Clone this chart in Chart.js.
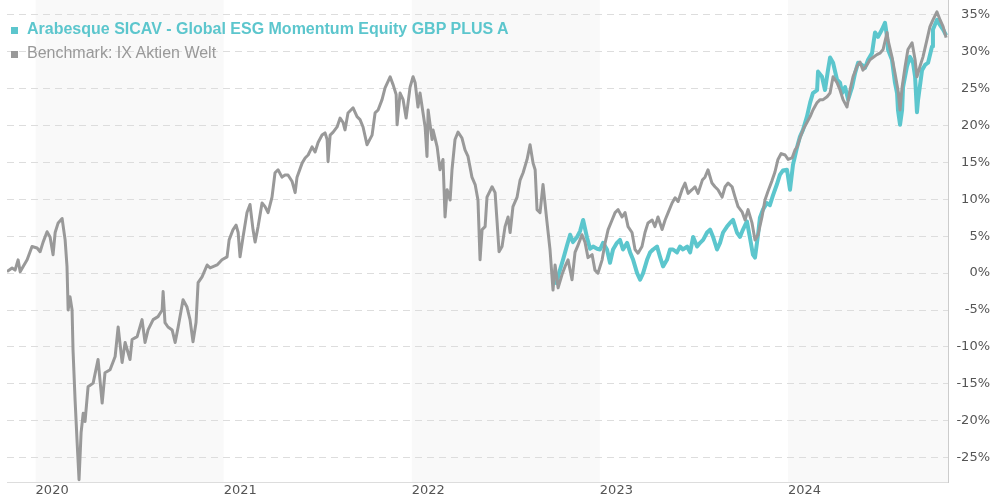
<!DOCTYPE html>
<html>
<head>
<meta charset="utf-8">
<script src="https://cdn.jsdelivr.net/npm/chart.js@4.4.1/dist/chart.umd.min.js"></script>
<style>
  html, body { margin: 0; padding: 0; background: #fff; }
  #wrap { position: relative; width: 990px; height: 500px; overflow: hidden; }
  #legend { position: absolute; left: 0; top: 17px; font-family: "Liberation Sans", Arial, sans-serif; font-size: 16px; line-height: 24px; pointer-events: none; }
  .item { position: relative; height: 24px; padding-left: 27px; white-space: nowrap; }
  .item .box { position: absolute; left: 11px; top: 10px; width: 7px; height: 7px; }
  .fund { color: #5cc6cd; font-weight: bold; }
  .fund .box { background: #5cc6cd; }
  .bench { color: #999; }
  .bench .box { background: #999; }
</style>
</head>
<body>
<div id="wrap">
  <canvas id="chart" width="990" height="500"></canvas>
  <div id="legend"></div>
</div>
<script>
// series names
const fundName = 'Arabesque SICAV - Global ESG Momentum Equity GBP PLUS A';
const benchName = 'Benchmark: IX Aktien Welt';

// x axis: decimal years
const yearTicks = [2020, 2021, 2022, 2023, 2024];
const shadedYears = [2020, 2022, 2024];
const xMin = 2019.848;
const xMax = 2024.851;
const yMin = -28.3;
const yMax = 37;

// benchmark, performance in %
const benchYears = [2019.848, 2019.875, 2019.891, 2019.907, 2019.918, 2019.934, 2019.955, 2019.981, 2020.008, 2020.024, 2020.040, 2020.061, 2020.077, 2020.093, 2020.104, 2020.120, 2020.141, 2020.157, 2020.167, 2020.173, 2020.183, 2020.194, 2020.199, 2020.210, 2020.221, 2020.231, 2020.242, 2020.253, 2020.263, 2020.279, 2020.306, 2020.332, 2020.354, 2020.369, 2020.396, 2020.423, 2020.439, 2020.460, 2020.476, 2020.502, 2020.513, 2020.540, 2020.566, 2020.582, 2020.598, 2020.625, 2020.651, 2020.673, 2020.678, 2020.688, 2020.704, 2020.726, 2020.742, 2020.758, 2020.784, 2020.805, 2020.821, 2020.837, 2020.853, 2020.864, 2020.885, 2020.912, 2020.928, 2020.965, 2020.991, 2021.018, 2021.029, 2021.050, 2021.066, 2021.077, 2021.087, 2021.103, 2021.124, 2021.140, 2021.156, 2021.167, 2021.183, 2021.204, 2021.220, 2021.236, 2021.257, 2021.273, 2021.289, 2021.310, 2021.326, 2021.342, 2021.364, 2021.380, 2021.390, 2021.417, 2021.433, 2021.449, 2021.470, 2021.486, 2021.502, 2021.523, 2021.539, 2021.550, 2021.555, 2021.566, 2021.582, 2021.603, 2021.619, 2021.635, 2021.645, 2021.661, 2021.688, 2021.709, 2021.725, 2021.741, 2021.762, 2021.789, 2021.805, 2021.821, 2021.842, 2021.858, 2021.885, 2021.901, 2021.917, 2021.922, 2021.938, 2021.954, 2021.970, 2021.991, 2022.007, 2022.018, 2022.033, 2022.044, 2022.060, 2022.071, 2022.081, 2022.087, 2022.108, 2022.113, 2022.135, 2022.150, 2022.166, 2022.177, 2022.188, 2022.204, 2022.214, 2022.230, 2022.246, 2022.267, 2022.283, 2022.299, 2022.320, 2022.337, 2022.352, 2022.363, 2022.374, 2022.390, 2022.400, 2022.427, 2022.443, 2022.454, 2022.464, 2022.480, 2022.496, 2022.512, 2022.523, 2022.538, 2022.560, 2022.576, 2022.592, 2022.613, 2022.629, 2022.645, 2022.656, 2022.666, 2022.682, 2022.698, 2022.719, 2022.735, 2022.751, 2022.762, 2022.778, 2022.799, 2022.815, 2022.831, 2022.852, 2022.868, 2022.884, 2022.905, 2022.921, 2022.937, 2022.959, 2022.974, 2022.990, 2023.012, 2023.028, 2023.044, 2023.065, 2023.081, 2023.097, 2023.118, 2023.134, 2023.150, 2023.171, 2023.187, 2023.203, 2023.224, 2023.240, 2023.256, 2023.278, 2023.293, 2023.309, 2023.331, 2023.347, 2023.363, 2023.384, 2023.400, 2023.416, 2023.437, 2023.453, 2023.469, 2023.490, 2023.506, 2023.522, 2023.545, 2023.559, 2023.575, 2023.596, 2023.612, 2023.628, 2023.650, 2023.666, 2023.682, 2023.703, 2023.719, 2023.735, 2023.756, 2023.772, 2023.788, 2023.809, 2023.825, 2023.841, 2023.862, 2023.878, 2023.894, 2023.915, 2023.931, 2023.947, 2023.964, 2023.985, 2024.001, 2024.022, 2024.038, 2024.049, 2024.064, 2024.080, 2024.101, 2024.118, 2024.133, 2024.155, 2024.171, 2024.187, 2024.208, 2024.224, 2024.240, 2024.261, 2024.277, 2024.293, 2024.314, 2024.330, 2024.346, 2024.367, 2024.383, 2024.399, 2024.420, 2024.436, 2024.452, 2024.473, 2024.489, 2024.506, 2024.527, 2024.532, 2024.553, 2024.569, 2024.585, 2024.596, 2024.607, 2024.623, 2024.638, 2024.660, 2024.676, 2024.686, 2024.702, 2024.718, 2024.739, 2024.755, 2024.771, 2024.792, 2024.809, 2024.825, 2024.841];
const benchValues = [0.2, 0.7, 0.4, 1.8, 0.2, 0.9, 1.8, 3.6, 3.4, 2.9, 4.2, 5.6, 4.9, 2.5, 5.5, 6.8, 7.4, 4.5, 0.9, -5.0, -3.2, -5.0, -10.4, -17.2, -23.0, -28.0, -21.6, -19.0, -20.1, -15.4, -14.9, -11.7, -17.6, -13.5, -13.1, -11.3, -7.3, -12.1, -9.4, -11.7, -9.0, -8.6, -6.3, -9.4, -7.7, -6.3, -5.9, -5.0, -2.5, -6.7, -7.3, -7.7, -9.4, -7.3, -3.6, -4.6, -6.3, -9.3, -6.7, -1.3, -0.5, 1.1, 0.7, 1.1, 1.8, 2.2, 4.5, 5.9, 6.5, 5.5, 2.2, 4.9, 8.2, 9.3, 5.9, 4.2, 6.3, 9.5, 9.0, 8.2, 10.3, 13.6, 14.0, 13.0, 13.3, 13.3, 12.4, 10.9, 13.0, 14.9, 15.6, 16.0, 17.1, 16.4, 17.7, 18.7, 19.0, 18.1, 15.1, 18.7, 19.1, 19.8, 21.0, 20.4, 19.4, 21.7, 22.4, 21.2, 20.8, 19.8, 17.4, 18.7, 21.7, 22.1, 23.5, 25.1, 26.6, 25.5, 24.2, 20.1, 24.4, 23.5, 21.0, 25.2, 26.6, 25.8, 22.5, 24.4, 21.7, 19.8, 15.8, 22.1, 18.1, 19.4, 17.1, 14.0, 15.4, 7.6, 11.3, 9.9, 14.0, 18.1, 19.1, 18.3, 16.7, 15.8, 13.0, 12.0, 9.9, 1.8, 5.9, 6.3, 10.3, 11.7, 10.9, 6.8, 2.9, 3.6, 6.3, 7.6, 5.5, 9.0, 10.3, 12.6, 13.6, 15.4, 17.4, 14.9, 14.0, 8.6, 8.2, 12.0, 6.9, 3.2, -2.3, 1.1, -2.0, -0.2, 0.9, 1.8, -0.9, 2.8, 3.8, 5.2, 4.2, 2.1, 2.5, 0.4, 0.0, 1.8, 4.1, 5.9, 7.2, 8.2, 8.6, 7.6, 8.2, 6.3, 5.5, 3.2, 2.7, 3.6, 5.5, 6.8, 7.2, 6.3, 7.6, 5.9, 7.2, 8.2, 9.5, 10.2, 9.7, 11.3, 12.2, 10.8, 11.3, 11.7, 10.8, 12.6, 13.0, 14.0, 12.2, 11.7, 11.3, 10.3, 11.7, 12.2, 11.7, 10.3, 9.0, 8.3, 7.2, 8.6, 6.8, 4.5, 5.2, 7.6, 9.9, 11.1, 12.5, 13.7, 15.4, 16.2, 16.0, 15.4, 15.6, 16.7, 17.1, 18.3, 19.4, 20.4, 21.2, 22.1, 23.1, 23.5, 23.5, 23.9, 24.4, 26.6, 25.8, 24.8, 23.5, 22.5, 24.8, 26.6, 28.0, 28.6, 27.5, 28.2, 28.9, 29.2, 29.6, 29.8, 30.3, 32.6, 31.6, 29.3, 27.1, 24.8, 22.1, 25.2, 28.0, 30.3, 31.2, 28.9, 26.6, 28.0, 29.3, 31.6, 33.4, 34.3, 35.4, 34.3, 33.4, 31.9];

// fund, performance in %
const fundYears = [2022.767, 2022.783, 2022.804, 2022.826, 2022.842, 2022.857, 2022.879, 2022.895, 2022.911, 2022.932, 2022.948, 2022.964, 2022.985, 2023.001, 2023.017, 2023.038, 2023.054, 2023.070, 2023.091, 2023.107, 2023.123, 2023.145, 2023.161, 2023.177, 2023.198, 2023.214, 2023.230, 2023.251, 2023.267, 2023.283, 2023.304, 2023.320, 2023.336, 2023.357, 2023.373, 2023.389, 2023.410, 2023.426, 2023.442, 2023.464, 2023.480, 2023.496, 2023.517, 2023.533, 2023.549, 2023.570, 2023.586, 2023.602, 2023.623, 2023.639, 2023.655, 2023.676, 2023.692, 2023.708, 2023.729, 2023.745, 2023.761, 2023.782, 2023.798, 2023.814, 2023.825, 2023.841, 2023.851, 2023.867, 2023.888, 2023.904, 2023.920, 2023.941, 2023.957, 2023.973, 2023.995, 2024.011, 2024.027, 2024.049, 2024.064, 2024.080, 2024.101, 2024.118, 2024.133, 2024.155, 2024.160, 2024.181, 2024.197, 2024.213, 2024.224, 2024.240, 2024.261, 2024.277, 2024.288, 2024.304, 2024.320, 2024.341, 2024.357, 2024.373, 2024.394, 2024.410, 2024.426, 2024.447, 2024.463, 2024.479, 2024.500, 2024.516, 2024.527, 2024.532, 2024.553, 2024.569, 2024.580, 2024.585, 2024.596, 2024.607, 2024.612, 2024.633, 2024.649, 2024.665, 2024.676, 2024.686, 2024.692, 2024.713, 2024.729, 2024.745, 2024.766, 2024.771, 2024.792, 2024.809, 2024.825, 2024.841];
const fundValues = [-1.6, 0.0, 1.8, 3.8, 5.2, 4.2, 4.9, 5.7, 7.2, 4.8, 3.3, 3.6, 3.3, 3.2, 4.1, 3.2, 1.4, 3.2, 4.1, 4.5, 3.2, 4.1, 2.8, 1.8, 0.0, -0.9, 0.0, 1.8, 2.8, 3.2, 3.6, 2.2, 0.9, 1.8, 3.2, 3.2, 2.8, 3.6, 3.2, 3.6, 2.8, 4.9, 3.6, 4.1, 4.5, 5.5, 5.9, 4.9, 3.2, 4.1, 5.5, 6.3, 6.8, 7.2, 5.5, 4.9, 5.9, 7.0, 4.8, 2.5, 2.1, 5.2, 7.5, 8.6, 9.5, 9.2, 10.5, 12.0, 13.3, 13.9, 14.0, 11.3, 14.7, 17.1, 18.5, 19.4, 21.2, 23.1, 24.4, 24.8, 27.3, 26.6, 24.8, 27.5, 29.2, 28.5, 26.2, 25.8, 24.4, 25.2, 23.5, 25.2, 27.1, 28.5, 28.2, 27.8, 28.9, 29.8, 32.6, 32.0, 33.0, 33.9, 32.0, 30.3, 28.9, 25.8, 24.4, 22.1, 20.1, 22.1, 25.2, 28.0, 29.3, 28.5, 26.6, 21.8, 23.5, 27.5, 28.2, 28.5, 30.7, 33.0, 34.3, 33.6, 33.0, 32.2];

const fundColor = '#5cc6cd';
const benchColor = '#999999';

function toPoints(xs, ys) {
  let pts = [];
  for (let i = 0; i < Math.min(xs.length, ys.length); i++)
    pts.push({x: xs[i], y: ys[i]});
  return pts;
}

// legend as html text
document.getElementById('legend').innerHTML =
  '<div class="item fund"><span class="box"></span>' + fundName + '</div>' +
  '<div class="item bench"><span class="box"></span>' + benchName + '</div>';

// grey background for every other year
const yearBands = {
  id: 'yearBands',
  beforeDraw(chart) {
    const {ctx, chartArea, scales} = chart;
    ctx.save();
    ctx.fillStyle = '#f9f9f9';
    shadedYears.forEach(y => {
      let x1 = Math.max(scales.x.getPixelForValue(y), chartArea.left);
      let x2 = Math.min(scales.x.getPixelForValue(y + 1), chartArea.right);
      ctx.fillRect(x1, chartArea.top, x2 - x1, chartArea.bottom - chartArea.top);
    });
    ctx.restore();
  }
};

const tickFont = {family: 'DejaVu Sans', size: 13};

const config = {
  type: 'line',
  data: {
    datasets: [{
      label: benchName,
      data: toPoints(benchYears, benchValues),
      borderColor: benchColor,
      borderWidth: 3,
      pointRadius: 0,
      borderJoinStyle: 'round',
      order: 1
    }, {
      label: fundName,
      data: toPoints(fundYears, fundValues),
      borderColor: fundColor,
      borderWidth: 4,
      pointRadius: 0,
      borderJoinStyle: 'round',
      order: 2
    }]
  },
  options: {
    responsive: false,
    animation: false,
    layout: {padding: {left: 7, top: 0, right: 0, bottom: 0}},
    plugins: {legend: {display: false}, tooltip: {enabled: false}},
    scales: {
      x: {
        type: 'linear',
        min: xMin,
        max: xMax,
        grid: {display: false, drawTicks: false},
        border: {display: true, color: '#dddddd'},
        afterBuildTicks: s => { s.ticks = yearTicks.map(v => ({value: v})); },
        afterFit: s => { s.height = 18; s.paddingLeft = 0; s.paddingRight = 0; },
        ticks: {
          align: 'start', padding: 1, maxRotation: 0, autoSkip: false,
          color: '#555', font: tickFont,
          callback: v => String(v)
        }
      },
      y: {
        position: 'right',
        min: yMin,
        max: yMax,
        grid: {color: '#dddddd', drawTicks: false},
        border: {display: true, color: '#cccccc', dash: [7, 5]},
        afterFit: s => { s.width = 42; s.paddingTop = 0; s.paddingBottom = 0; },
        ticks: {
          stepSize: 5, includeBounds: false, crossAlign: 'far', padding: 11,
          color: '#555', font: tickFont,
          callback: v => v + '%'
        }
      }
    }
  },
  plugins: [yearBands]
};

let ctx = document.getElementById('chart').getContext('2d');
new Chart(ctx, config);
</script>
</body>
</html>
